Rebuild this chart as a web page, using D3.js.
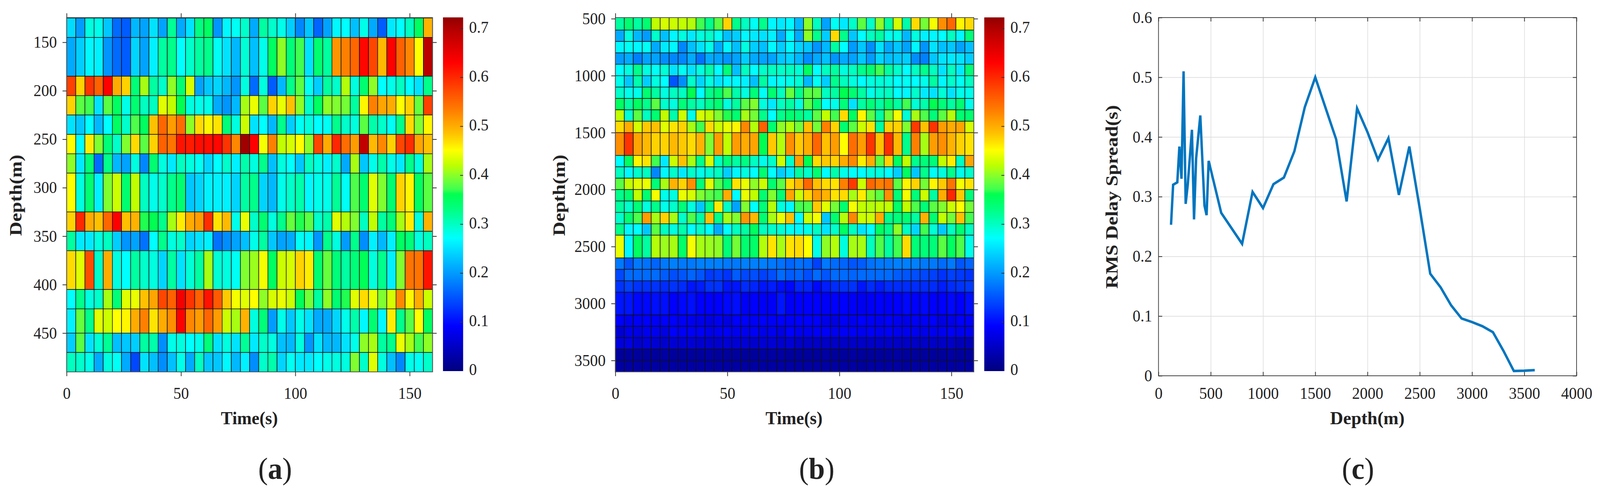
<!DOCTYPE html>
<html>
<head>
<meta charset="utf-8">
<script src="https://cdn.jsdelivr.net/npm/d3@7"></script>
<style>
  html, body { margin: 0; background: #fff; overflow: hidden; width: 100%; height: 100%; }
  svg { display: block; width: 100vw; height: 100vh; }
  text { font-family: "Liberation Serif", serif; fill: #222; }
</style>
</head>
<body>
<svg id="chart" viewBox="0 0 4298 1280" preserveAspectRatio="none"></svg>
<script>
// depth edges of the rows in each heatmap
const depthEdgesA = [125,145,185,205,225,245,265,285,325,345,365,405,425,450,470,490];
const depthEdgesB = [490,600,700,800,900,1000,1100,1200,1300,1400,1500,1700,1800,1900,2000,2100,2200,2300,2400,2600,2700,2800,2900,3100,3200,3300,3400,3500,3600];

// RMS delay spread per cell, 40 columns of 4 s
const gridA = [
[.245,.2,.285,.28,.23,.165,.155,.22,.205,.25,.205,.32,.21,.25,.33,.35,.195,.265,.275,.295,.21,.315,.295,.28,.235,.185,.23,.16,.205,.265,.27,.225,.28,.21,.155,.255,.27,.3,.35,.495],
[.21,.235,.265,.26,.195,.165,.155,.24,.205,.26,.315,.325,.27,.295,.315,.325,.275,.25,.22,.29,.225,.28,.35,.4,.335,.37,.25,.34,.315,.515,.53,.55,.625,.575,.49,.63,.555,.525,.45,.69],
[.58,.475,.59,.555,.63,.5,.475,.335,.41,.315,.295,.4,.34,.43,.205,.23,.24,.22,.195,.285,.165,.285,.155,.22,.325,.38,.275,.235,.315,.295,.415,.285,.34,.4,.27,.28,.3,.27,.25,.325],
[.475,.38,.37,.25,.38,.35,.28,.34,.3,.3,.435,.42,.36,.285,.28,.28,.21,.195,.22,.41,.44,.38,.475,.44,.485,.4,.295,.35,.4,.395,.39,.315,.455,.53,.505,.5,.45,.475,.385,.58],
[.25,.23,.27,.22,.27,.35,.295,.375,.35,.485,.55,.51,.545,.4,.47,.455,.465,.335,.285,.425,.25,.27,.22,.325,.235,.275,.285,.27,.275,.325,.295,.285,.38,.31,.295,.275,.325,.47,.395,.455],
[.45,.27,.46,.395,.335,.295,.395,.47,.38,.475,.555,.54,.615,.61,.62,.62,.625,.59,.525,.71,.63,.445,.53,.42,.43,.45,.4,.575,.5,.6,.545,.51,.685,.49,.525,.475,.575,.595,.505,.485],
[.4,.255,.335,.165,.325,.22,.205,.285,.185,.34,.285,.255,.3,.285,.275,.24,.27,.295,.26,.31,.285,.325,.225,.285,.27,.23,.3,.285,.26,.295,.21,.41,.23,.28,.31,.28,.255,.325,.285,.41],
[.45,.285,.34,.26,.395,.425,.34,.42,.3,.28,.295,.325,.34,.23,.24,.26,.26,.26,.24,.315,.325,.24,.22,.28,.295,.31,.265,.28,.28,.32,.275,.375,.34,.435,.395,.34,.475,.455,.35,.38],
[.475,.6,.5,.485,.55,.63,.485,.495,.365,.36,.325,.41,.46,.5,.51,.595,.465,.49,.28,.44,.295,.34,.285,.325,.385,.365,.38,.295,.31,.435,.415,.395,.3,.42,.315,.335,.41,.46,.285,.495],
[.315,.255,.255,.285,.3,.235,.195,.205,.17,.27,.325,.285,.295,.24,.25,.26,.17,.19,.205,.225,.28,.315,.23,.205,.21,.275,.265,.195,.325,.285,.2,.325,.19,.26,.22,.26,.35,.335,.285,.3],
[.47,.435,.57,.295,.5,.285,.27,.315,.295,.285,.24,.315,.25,.29,.315,.41,.29,.285,.275,.395,.405,.445,.35,.425,.43,.475,.46,.34,.385,.335,.315,.335,.355,.285,.325,.26,.395,.54,.54,.615],
[.27,.325,.285,.295,.41,.335,.435,.44,.485,.505,.575,.555,.64,.59,.555,.615,.56,.48,.445,.435,.45,.4,.43,.44,.425,.355,.39,.315,.4,.34,.365,.435,.47,.44,.395,.43,.525,.455,.5,.425],
[.26,.385,.325,.435,.425,.45,.455,.5,.53,.465,.5,.52,.63,.525,.51,.55,.51,.425,.41,.495,.285,.335,.2,.28,.23,.28,.25,.21,.21,.24,.28,.31,.265,.34,.265,.46,.325,.38,.45,.35],
[.235,.38,.25,.29,.32,.225,.23,.235,.315,.31,.19,.28,.285,.27,.28,.335,.25,.285,.25,.32,.255,.295,.285,.225,.22,.285,.195,.25,.22,.22,.25,.28,.4,.41,.315,.325,.44,.41,.37,.4],
[.3,.295,.28,.21,.285,.275,.21,.14,.25,.225,.19,.225,.28,.21,.3,.23,.23,.265,.22,.26,.19,.295,.31,.24,.275,.255,.255,.27,.28,.285,.285,.395,.295,.435,.285,.225,.185,.28,.275,.295]
];

const gridB = [
[.315,.34,.315,.34,.42,.43,.425,.42,.415,.37,.325,.38,.475,.325,.3,.275,.325,.265,.255,.265,.22,.4,.3,.205,.275,.255,.295,.38,.295,.4,.315,.43,.31,.47,.39,.445,.52,.55,.455,.47],
[.21,.285,.22,.2,.295,.225,.265,.285,.255,.285,.295,.275,.225,.235,.265,.255,.25,.26,.21,.27,.21,.4,.325,.235,.47,.325,.23,.27,.3,.315,.28,.28,.22,.285,.26,.265,.27,.3,.265,.335],
[.265,.275,.265,.275,.21,.255,.265,.185,.225,.25,.28,.21,.265,.225,.285,.235,.225,.265,.235,.265,.24,.23,.195,.22,.315,.27,.2,.23,.19,.25,.21,.23,.205,.265,.195,.25,.225,.23,.205,.225],
[.2,.21,.18,.205,.205,.19,.185,.185,.21,.17,.21,.205,.195,.205,.235,.21,.205,.205,.23,.24,.22,.19,.21,.225,.195,.21,.205,.23,.2,.24,.225,.23,.235,.19,.18,.23,.25,.255,.25,.235],
[.27,.285,.325,.285,.275,.29,.25,.275,.25,.285,.31,.27,.335,.225,.3,.27,.295,.3,.295,.3,.29,.35,.27,.3,.315,.285,.3,.325,.34,.37,.315,.295,.27,.3,.325,.3,.25,.3,.255,.335],
[.28,.23,.31,.235,.285,.27,.15,.19,.295,.24,.285,.25,.265,.265,.26,.225,.315,.265,.275,.28,.29,.22,.275,.235,.325,.3,.285,.27,.285,.29,.285,.27,.275,.27,.28,.315,.265,.295,.275,.3],
[.295,.28,.28,.34,.315,.285,.3,.3,.36,.27,.325,.34,.375,.31,.285,.335,.275,.34,.3,.385,.325,.38,.38,.3,.315,.36,.34,.315,.28,.295,.3,.27,.265,.295,.255,.25,.29,.25,.28,.28],
[.35,.315,.35,.325,.38,.295,.285,.335,.315,.3,.325,.34,.285,.315,.38,.395,.285,.255,.3,.315,.285,.38,.34,.27,.28,.335,.25,.315,.335,.315,.34,.315,.37,.29,.31,.36,.335,.315,.34,.28],
[.42,.29,.38,.3,.34,.42,.31,.425,.28,.43,.42,.395,.365,.34,.41,.39,.325,.27,.325,.34,.33,.315,.38,.42,.37,.47,.35,.455,.38,.315,.39,.445,.29,.41,.375,.335,.38,.415,.34,.34],
[.47,.5,.43,.48,.485,.435,.465,.475,.41,.37,.47,.425,.44,.455,.525,.415,.555,.34,.4,.415,.39,.485,.39,.53,.475,.34,.38,.425,.465,.315,.475,.475,.395,.585,.485,.59,.51,.5,.505,.43],
[.52,.59,.505,.49,.475,.475,.49,.48,.47,.495,.395,.51,.42,.51,.5,.505,.36,.48,.415,.52,.48,.5,.55,.485,.51,.45,.545,.51,.59,.485,.595,.49,.325,.53,.41,.51,.52,.495,.475,.465],
[.27,.35,.455,.465,.37,.255,.425,.485,.41,.325,.43,.3,.335,.315,.33,.3,.28,.295,.425,.295,.51,.36,.47,.48,.475,.5,.525,.46,.5,.38,.475,.35,.42,.325,.335,.335,.42,.46,.3,.505],
[.3,.265,.295,.3,.185,.265,.295,.255,.295,.28,.29,.3,.235,.265,.285,.27,.34,.27,.235,.255,.315,.295,.34,.27,.31,.28,.27,.27,.285,.285,.27,.235,.35,.23,.325,.275,.285,.325,.28,.295],
[.38,.42,.435,.44,.335,.41,.495,.475,.52,.335,.435,.375,.34,.465,.44,.4,.425,.34,.38,.47,.49,.55,.485,.47,.465,.53,.585,.425,.55,.53,.54,.38,.455,.475,.39,.455,.48,.54,.445,.465],
[.325,.34,.42,.34,.445,.28,.285,.44,.43,.395,.38,.37,.5,.27,.44,.42,.34,.395,.34,.505,.425,.475,.51,.495,.465,.47,.41,.46,.4,.38,.52,.335,.445,.335,.425,.315,.5,.6,.48,.335],
[.315,.295,.335,.285,.325,.28,.295,.335,.285,.23,.325,.46,.295,.205,.395,.27,.335,.415,.285,.265,.37,.375,.48,.435,.39,.34,.445,.42,.415,.42,.42,.345,.42,.375,.335,.38,.395,.425,.45,.39],
[.295,.34,.375,.51,.41,.475,.41,.295,.375,.315,.485,.325,.41,.395,.515,.49,.34,.41,.44,.485,.27,.425,.445,.23,.34,.415,.525,.425,.425,.5,.325,.335,.34,.315,.495,.34,.42,.39,.485,.37],
[.325,.265,.27,.23,.38,.3,.285,.31,.27,.295,.27,.21,.27,.3,.315,.35,.3,.295,.29,.275,.265,.28,.3,.25,.295,.35,.3,.25,.27,.35,.325,.4,.3,.24,.37,.29,.23,.3,.34,.3],
[.44,.265,.35,.315,.415,.405,.41,.345,.445,.41,.405,.4,.335,.39,.34,.345,.415,.465,.41,.465,.47,.45,.28,.4,.415,.285,.41,.41,.3,.375,.315,.37,.47,.335,.335,.335,.38,.35,.375,.28],
[.175,.15,.175,.17,.16,.175,.18,.175,.175,.18,.18,.18,.175,.175,.18,.18,.18,.175,.17,.16,.17,.165,.135,.175,.165,.16,.15,.155,.17,.175,.175,.18,.18,.18,.175,.175,.165,.175,.15,.16],
[.14,.165,.165,.165,.165,.155,.145,.15,.16,.15,.13,.135,.125,.155,.14,.145,.135,.145,.165,.155,.16,.145,.165,.15,.165,.165,.16,.165,.165,.165,.165,.155,.15,.145,.14,.135,.125,.135,.13,.125],
[.125,.135,.125,.125,.125,.12,.125,.12,.105,.11,.125,.125,.105,.105,.12,.115,.105,.11,.1,.095,.115,.115,.095,.11,.12,.125,.125,.105,.12,.11,.12,.12,.12,.12,.12,.12,.11,.12,.125,.13],
[.105,.105,.095,.095,.1,.1,.09,.095,.1,.09,.09,.09,.095,.1,.085,.09,.085,.085,.105,.085,.09,.09,.09,.085,.09,.09,.085,.08,.085,.09,.085,.09,.095,.09,.095,.09,.09,.095,.09,.1],
[.09,.08,.085,.09,.085,.09,.09,.085,.08,.075,.07,.08,.07,.09,.09,.085,.09,.085,.09,.085,.09,.09,.09,.075,.07,.085,.08,.09,.085,.08,.09,.08,.075,.085,.085,.09,.07,.075,.09,.085],
[.06,.075,.07,.08,.08,.07,.09,.085,.085,.085,.075,.08,.085,.08,.08,.085,.075,.08,.07,.09,.08,.08,.085,.085,.08,.085,.085,.08,.085,.08,.085,.08,.08,.08,.075,.08,.08,.085,.08,.08],
[.065,.07,.055,.065,.06,.055,.06,.06,.06,.055,.055,.055,.06,.06,.06,.055,.06,.06,.055,.06,.05,.05,.05,.05,.05,.05,.05,.05,.05,.05,.05,.05,.05,.05,.05,.05,.05,.05,.04,.04],
[.02,.02,.02,.02,.02,.025,.02,.02,.02,.02,.025,.02,.02,.02,.02,.02,.025,.025,.025,.02,.02,.02,.02,.025,.02,.02,.025,.02,.02,.02,.02,.025,.02,.02,.02,.02,.02,.025,.02,.02],
[.025,.025,.025,.025,.025,.025,.025,.025,.025,.025,.025,.025,.025,.025,.025,.025,.025,.025,.025,.025,.025,.025,.025,.025,.025,.025,.025,.02,.025,.025,.025,.025,.02,.025,.025,.025,.025,.025,.025,.025]
];

// panel (c) line
const lineDepth = [120,140,180,200,220,240,260,280,320,340,360,400,440,460,480,600,800,900,1000,1100,1200,1300,1400,1500,1600,1700,1800,1900,2000,2100,2200,2300,2400,2500,2600,2700,2800,2900,3000,3100,3200,3300,3400,3500,3600];
const lineSpread = [.253,.32,.324,.384,.33,.51,.288,.32,.412,.262,.364,.436,.285,.269,.36,.273,.221,.308,.281,.321,.332,.376,.45,.5,.448,.396,.292,.448,.408,.362,.398,.303,.384,.28,.171,.148,.118,.096,.09,.083,.073,.042,.008,.0085,.0095];

// tick labels
const timeTicks = [0,50,100,150];
const depthTicksA = [150,200,250,300,350,400,450];
const depthTicksB = [500,1000,1500,2000,2500,3000,3500];
const colorTicks = [0,.1,.2,.3,.4,.5,.6,.7];
const depthTicksC = [0,500,1000,1500,2000,2500,3000,3500,4000];
const spreadTicks = [0,.1,.2,.3,.4,.5,.6];

// jet-like colormap as it looks in the colorbars
const colorStops = [0,.09,.18,.27,.33,.36,.37,.395,.42,.45,.485,.53,.58,.63,.7,.722];
const colorRange = ["#000080","#0000ff","#0080ff","#00ffff","#00ff80","#00ff50","#40ff50","#80ff30","#c0ff00","#ffff00","#ffc000","#ff8000","#ff4000","#ff0000","#b00000","#900000"];
const color = d3.scaleLinear().domain(colorStops).range(colorRange).clamp(true);

const svg = d3.select("#chart");
svg.append("rect").attr("width", 4298).attr("height", 1280).attr("fill", "#fff");

const tickSize = 42, titleSize = 47;

function styleAxis(g) {
    g.select(".domain").remove();
    g.selectAll(".tick line").attr("stroke", "#333").attr("stroke-width", 2);
    g.selectAll(".tick text").attr("font-size", tickSize).attr("fill", "#222");
}

function xTitle(x, label, len) {
    svg.append("text").attr("x", x).attr("y", 1086)
        .attr("text-anchor", "middle").attr("font-size", titleSize).attr("font-weight", "bold")
        .attr("textLength", len).attr("lengthAdjust", "spacingAndGlyphs")
        .text(label);
}

function yTitle(x, y, label, len) {
    svg.append("text").attr("transform", `translate(${x},${y}) rotate(-90)`)
        .attr("text-anchor", "middle").attr("font-size", titleSize).attr("font-weight", "bold")
        .attr("textLength", len).attr("lengthAdjust", "spacingAndGlyphs")
        .text(label);
}

function panelLetter(x, letter) {
    const t = svg.append("text").attr("x", x).attr("y", 1226)
        .attr("text-anchor", "middle").attr("font-size", 78).attr("fill", "#000");
    t.append("tspan").text("(");
    t.append("tspan").attr("font-weight", "bold").text(letter);
    t.append("tspan").text(")");
}

function drawHeatmap(o) {
    const x = d3.scaleLinear().domain([0, 160]).range([o.left, o.right]);
    const y = d3.scaleLinear().domain(o.depthDomain).range([45, 952]);

    const cells = [];
    o.grid.forEach((row, r) => row.forEach((v, c) => cells.push({
        t0: c * 4, t1: (c + 1) * 4, d0: o.edges[r], d1: o.edges[r + 1], v: v
    })));

    svg.append("g").selectAll("rect").data(cells).enter().append("rect")
        .attr("x", d => x(d.t0))
        .attr("y", d => y(d.d0))
        .attr("width", d => x(d.t1) - x(d.t0))
        .attr("height", d => y(d.d1) - y(d.d0))
        .attr("fill", d => color(d.v))
        .attr("stroke", "#111")
        .attr("stroke-width", 1.5);

    svg.append("rect").attr("x", o.left).attr("y", 45)
        .attr("width", o.right - o.left).attr("height", 907)
        .attr("fill", "none").attr("stroke", "#555").attr("stroke-width", 2);

    // ticks point outward on all four sides
    svg.append("g").attr("transform", "translate(0,952)")
        .call(d3.axisBottom(x).tickValues(timeTicks).tickFormat(d => d).tickSize(11).tickPadding(28)).call(styleAxis);
    svg.append("g").attr("transform", "translate(0,45)")
        .call(d3.axisTop(x).tickValues(timeTicks).tickFormat("").tickSize(11)).call(styleAxis);
    svg.append("g").attr("transform", `translate(${o.left},0)`)
        .call(d3.axisLeft(y).tickValues(o.ticks).tickFormat(d => d).tickSize(11).tickPadding(15)).call(styleAxis);
    svg.append("g").attr("transform", `translate(${o.right},0)`)
        .call(d3.axisRight(y).tickValues(o.ticks).tickFormat("").tickSize(11)).call(styleAxis);

    // colorbar
    const c = d3.scaleLinear().domain([0, .722]).range([949.5, 45]);
    const slices = d3.range(0, .722, .722 / 256);
    svg.append("g").selectAll("rect").data(slices).enter().append("rect")
        .attr("x", o.barLeft)
        .attr("y", d => c(d + .722 / 256) - .5)
        .attr("width", 54)
        .attr("height", c(0) - c(.722 / 256) + 1)
        .attr("fill", d => color(d));
    svg.append("g").attr("transform", `translate(${o.barLeft + 54},0)`)
        .call(d3.axisLeft(c).tickValues(colorTicks.slice(1)).tickFormat("").tickSize(8)).call(styleAxis);
    svg.append("g").attr("transform", `translate(${o.barLeft + 54},-3)`)
        .call(d3.axisRight(c).tickValues(colorTicks).tickFormat(d => d).tickSize(0).tickPadding(16)).call(styleAxis);

    xTitle(o.titleX, "Time(s)", 153);
    yTitle(o.yTitleX, 500, "Depth(m)", 208);
    panelLetter(o.letterX, o.letter);
}

drawHeatmap({ left: 179, right: 1162, barLeft: 1190, grid: gridA, edges: depthEdgesA,
    depthDomain: [124.5, 490], ticks: depthTicksA, titleX: 670, yTitleX: 58, letterX: 739, letter: "a" });
drawHeatmap({ left: 1653, right: 2616, barLeft: 2644, grid: gridB, edges: depthEdgesB,
    depthDomain: [490, 3600], ticks: depthTicksB, titleX: 2133, yTitleX: 1517, letterX: 2194, letter: "b" });

// panel (c)
const xC = d3.scaleLinear().domain([0, 4000]).range([3112, 4235]);
const yC = d3.scaleLinear().domain([0, .6]).range([962, 45]);

svg.append("g").attr("transform", "translate(0,962)")
    .call(d3.axisBottom(xC).tickValues(depthTicksC.slice(1, -1)).tickFormat("").tickSize(-917))
    .call(g => { g.select(".domain").remove(); g.selectAll("line").attr("stroke", "#dcdcdc").attr("stroke-width", 1.6); });
svg.append("g").attr("transform", "translate(3112,0)")
    .call(d3.axisLeft(yC).tickValues(spreadTicks.slice(1, -1)).tickFormat("").tickSize(-1123))
    .call(g => { g.select(".domain").remove(); g.selectAll("line").attr("stroke", "#dcdcdc").attr("stroke-width", 1.6); });

svg.append("rect").attr("x", 3112).attr("y", 45).attr("width", 1123).attr("height", 917)
    .attr("fill", "none").attr("stroke", "#444").attr("stroke-width", 2);

svg.append("g").attr("transform", "translate(0,962)")
    .call(d3.axisBottom(xC).tickValues(depthTicksC).tickFormat(d => d).tickSize(-10).tickPadding(29)).call(styleAxis);
svg.append("g").attr("transform", "translate(0,45)")
    .call(d3.axisTop(xC).tickValues(depthTicksC).tickFormat("").tickSize(-10)).call(styleAxis);
svg.append("g").attr("transform", "translate(3112,0)")
    .call(d3.axisLeft(yC).tickValues(spreadTicks).tickFormat(d => d).tickSize(-10).tickPadding(17)).call(styleAxis);
svg.append("g").attr("transform", "translate(4235,0)")
    .call(d3.axisRight(yC).tickValues(spreadTicks).tickFormat("").tickSize(-10)).call(styleAxis);

const line = d3.line().x(d => xC(d[0])).y(d => yC(d[1]));
svg.append("path").datum(d3.zip(lineDepth, lineSpread))
    .attr("d", line)
    .attr("fill", "none")
    .attr("stroke", "#0075bf")
    .attr("stroke-width", 6.5)
    .attr("stroke-linejoin", "miter")
    .attr("stroke-miterlimit", 4);

xTitle(3673, "Depth(m)", 200);
yTitle(3002, 504, "RMS Delay Spread(s)", 470);
panelLetter(3648, "c");
</script>
</body>
</html>
